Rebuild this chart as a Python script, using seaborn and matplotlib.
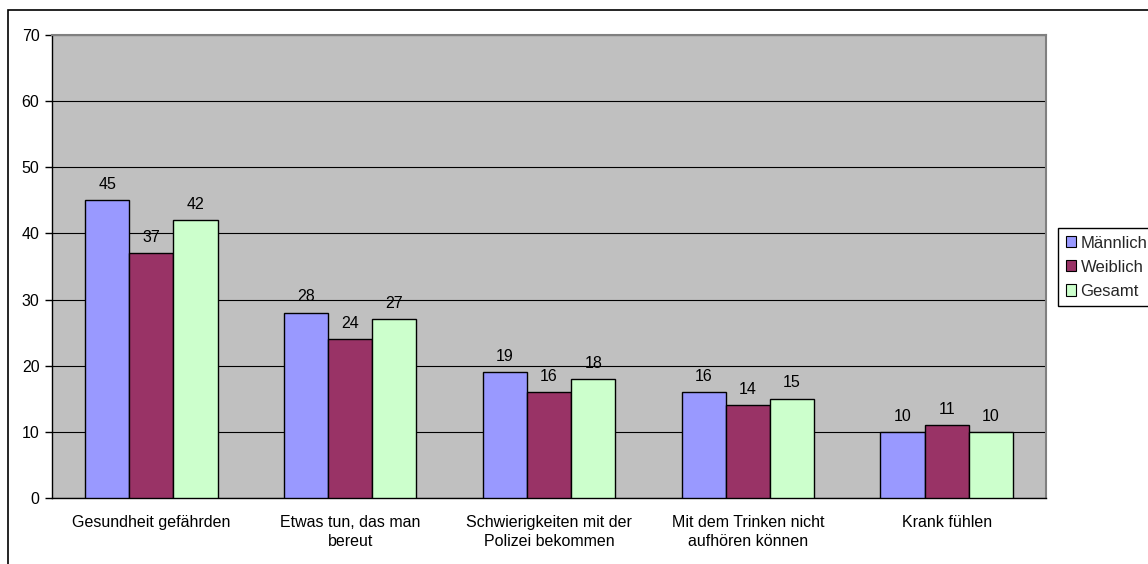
import matplotlib
matplotlib.use("Agg")
import matplotlib.pyplot as plt
import matplotlib.patches as mpatches
import seaborn as sns
import pandas as pd
import numpy as np

categories = [
    "Gesundheit gefährden",
    "Etwas tun, das man\nbereut",
    "Schwierigkeiten mit der\nPolizei bekommen",
    "Mit dem Trinken nicht\naufhören können",
    "Krank fühlen",
]
series_names = ["Männlich", "Weiblich", "Gesamt"]
maennlich = [45, 28, 19, 16, 10]
weiblich = [37, 24, 16, 14, 11]
gesamt = [42, 27, 18, 15, 10]
colors = ["#9999FF", "#993366", "#CCFFCC"]
y_ticks = [0, 10, 20, 30, 40, 50, 60, 70]

df = pd.DataFrame({
    "Kategorie": categories * 3,
    "Gruppe": [s for s in series_names for _ in categories],
    "Wert": maennlich + weiblich + gesamt,
})

sns.set_theme(style="white")
plt.rcParams["font.family"] = ["Liberation Sans", "DejaVu Sans"]
FS = 11.5

W, H = 1148, 564
fig = plt.figure(figsize=(W / 100, H / 100), dpi=100)
fig.patch.set_facecolor("white")

left, right, top, bottom = 52, 1046, 35, 498
ax = fig.add_axes([left / W, 1 - bottom / H, (right - left) / W, (bottom - top) / H])
ax.set_facecolor("#C0C0C0")

sns.barplot(
    data=df, x="Kategorie", y="Wert", hue="Gruppe",
    order=categories, hue_order=series_names, palette=colors,
    width=0.667, edgecolor="black", linewidth=1.0, saturation=1,
    dodge=True, ax=ax, legend=True, zorder=3,
)

ax.set_ylim(0, 70)
ax.set_xlim(-0.5, len(categories) - 0.5)
ax.set_yticks(y_ticks)
ax.set_yticklabels([str(v) for v in y_ticks], fontsize=FS, color="black")
ax.yaxis.grid(True, color="black", linewidth=0.8, zorder=1)
ax.set_axisbelow(True)
ax.set_xlabel("")
ax.set_ylabel("")

# Category labels below the axis, ticks between categories
ax.set_xticks(range(len(categories)))
ax.set_xticklabels(categories, fontsize=FS, color="black", linespacing=1.35)
ax.tick_params(axis="x", length=0, pad=12)
ax.set_xticks(np.arange(-0.5, len(categories) + 0.5, 1), minor=True)
ax.tick_params(axis="x", which="minor", length=5, width=1, color="black", direction="out")
ax.tick_params(axis="y", length=5, width=1, color="black", direction="out", left=True, pad=4)

for side in ["left", "bottom"]:
    ax.spines[side].set_color("black")
    ax.spines[side].set_linewidth(1.0)
for side in ["top", "right"]:
    ax.spines[side].set_color("#808080")
    ax.spines[side].set_linewidth(1.5)

# Value labels above the bars
for container in ax.containers:
    ax.bar_label(container, labels=[f"{v:g}" for v in container.datavalues],
                 padding=6, fontsize=FS, color="black")

# Legend on the right
handles = [mpatches.Patch(facecolor=c, edgecolor="black", linewidth=0.8) for c in colors]
ax.get_legend().remove()
leg = fig.legend(
    handles, series_names, loc="upper left",
    bbox_to_anchor=(1058 / W, 1 - 228 / H), fontsize=12,
    frameon=True, fancybox=False, edgecolor="black", framealpha=1,
    handlelength=0.65, handleheight=0.65, handletextpad=0.25,
    labelspacing=0.55, borderpad=0.45, borderaxespad=0,
)
leg.get_frame().set_linewidth(1.0)

# Outer chart border
fig.add_artist(mpatches.Rectangle(
    (8 / W, -0.05), 1.2, 1 - 9.5 / H + 0.05,
    transform=fig.transFigure, fill=False, edgecolor="black", linewidth=1.2,
))

fig.savefig("out.png", dpi=100, facecolor="white")
